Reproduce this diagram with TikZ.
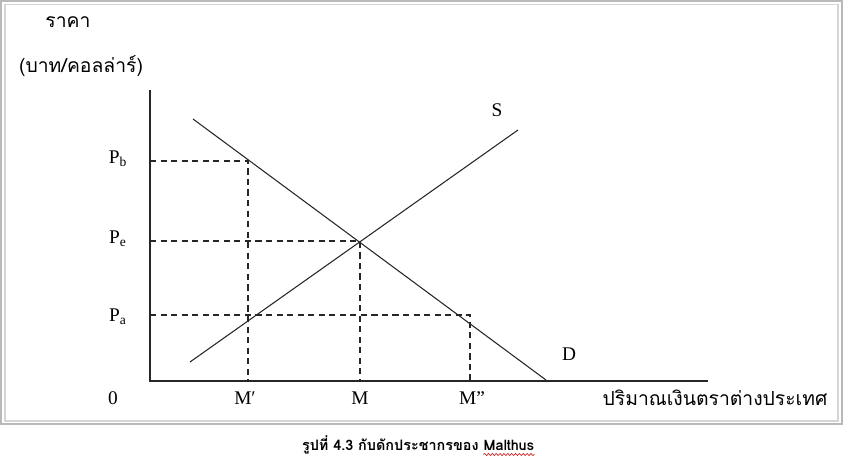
\documentclass[tikz,border=0pt]{standalone}
\usepackage{fontspec}
\setmainfont{Liberation Serif}
\newfontfamily\thaifont[Script=Thai]{Loma}
\usetikzlibrary{decorations.pathmorphing}
\definecolor{framegray}{RGB}{185,185,185}
\definecolor{spellred}{RGB}{210,40,40}

\begin{document}
\begin{tikzpicture}[x=0.02cm,y=-0.02cm,
    axis/.style={line width=0.9pt, black!85},
    curve/.style={line width=0.6pt, black!85},
    guide/.style={dash pattern=on 3.5pt off 2.5pt, line width=0.6pt, black!85},
    lbl/.style={inner sep=0pt, font=\fontsize{11}{13}\selectfont},
    thai/.style={inner sep=0pt, font=\thaifont\fontsize{11}{13}\selectfont}]
    \useasboundingbox[fill=white] (0,0) rectangle (843,465);
    % Frame
    \draw[framegray, line width=1.3pt] (1,1) rectangle (842,424);
    \draw[framegray!60, line width=0.6pt] (5,4.5) rectangle (838,421);

    % Axes
    \coordinate (O) at (150,381);
    \coordinate (ytop) at (150,90);
    \coordinate (xend) at (708,381);
    \draw[axis] (ytop) -- (O) -- (xend);

    % Demand and supply
    \coordinate (d1) at (193,119);
    \coordinate (d2) at (546,380);
    \coordinate (s1) at (190,362);
    \coordinate (s2) at (518,130);
    \draw[curve] (d1) -- (d2);
    \draw[curve] (s1) -- (s2);

    % Price levels
    \coordinate (B) at (248,161);
    \coordinate (E) at (360,241);
    \coordinate (A) at (470,315);
    \draw[guide] (O |- B) -- (B) -- (B |- O);
    \draw[guide] (O |- E) -- (E) -- (E |- O);
    \draw[guide] (O |- A) -- (A) -- (A |- O);

    % Labels
    \node[thai] (ylab1) at (68,22) {ราคา};
    \node[thai] (ylab2) at (81,66) {(บาท/คอลล่าร์)};
    \node[thai] (xlab) at (715,398) {ปริมาณเงินตราต่างประเทศ};
    \node[lbl] (zero) at (113,398) {0};
    \node[lbl] (pb) at (118,159) {P\textsubscript{b}};
    \node[lbl] (pe) at (118,239) {P\textsubscript{e}};
    \node[lbl] (pa) at (118,317) {P\textsubscript{a}};
    \node[lbl] (m1) at (245,398) {M′};
    \node[lbl] (m) at (360,398) {M};
    \node[lbl] (m2) at (472,398) {M”};
    \node[lbl] (slab) at (497,110) {S};
    \node[lbl] (dlab) at (569,354) {D};

    % Caption
    \node[inner sep=0pt, anchor=base east, font=\thaifont\bfseries\fontsize{8.2}{10}\selectfont] (cap) at (479,451) {รูปที่ 4.3 กับดักประชากรของ};
    \node[inner sep=0pt, anchor=base west, font=\thaifont\bfseries\fontsize{8.2}{10}\selectfont] (mal) at ([xshift=2.5pt]cap.base east) {Malthus};
    \draw[spellred, line width=0.4pt, decorate, decoration={snake, amplitude=0.6pt, segment length=2.2pt}] ([yshift=-2pt]mal.base west) -- ([yshift=-2pt]mal.base east);
\end{tikzpicture}
\end{document}
